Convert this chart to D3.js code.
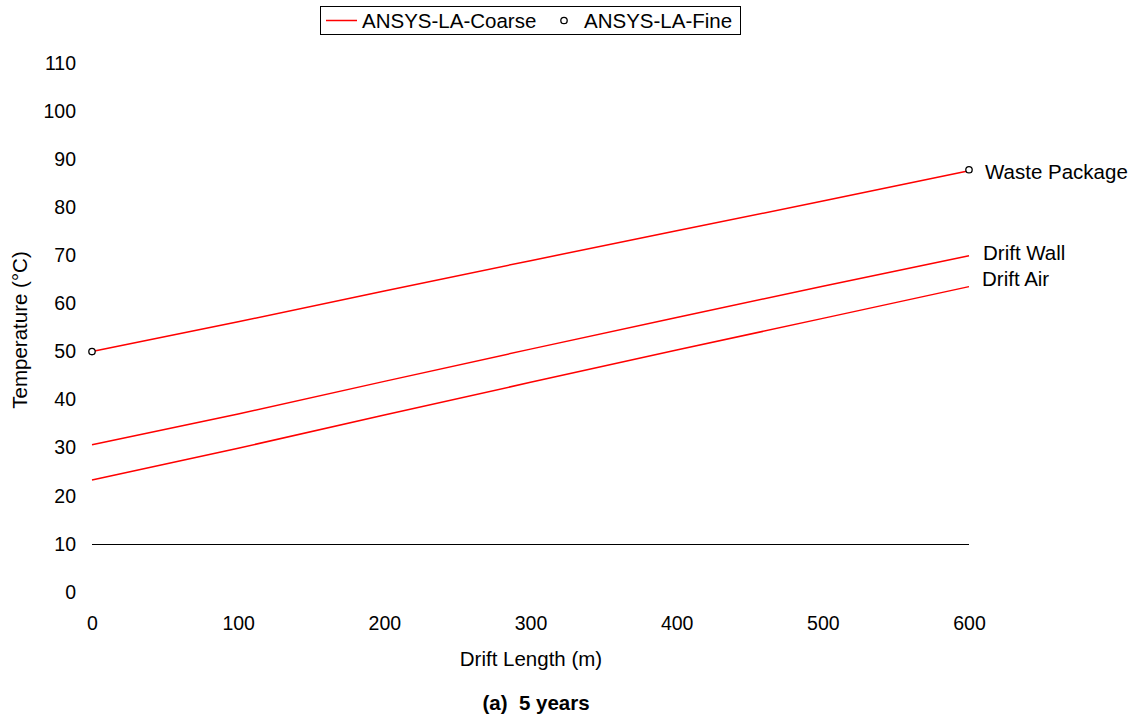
<!DOCTYPE html>
<html>
<head>
<meta charset="utf-8">
<script src="https://cdn.jsdelivr.net/npm/d3@7"></script>
<style>
  body { margin: 0; background: #fff; }
  svg { display: block; font-family: Arial, "Liberation Sans", sans-serif; }
</style>
</head>
<body>
<svg id="chart" width="1138" height="719"></svg>
<script>
// drift length (m) and temperatures (°C)
const distance = [0, 100, 200, 300, 400, 500, 600];
const wastePackage = [50.0, 56.2, 62.6, 68.9, 75.1, 81.3, 87.6];
const driftWall = [30.6, 37.0, 43.8, 50.5, 57.1, 63.6, 69.9];
const driftAir = [23.3, 29.9, 36.8, 43.6, 50.3, 56.9, 63.5];

const fineDistance = [0, 600];
const fineWastePackage = [50.0, 87.8];

const xTicks = [0, 100, 200, 300, 400, 500, 600];
const yTicks = [0, 10, 20, 30, 40, 50, 60, 70, 80, 90, 100, 110];
const seriesNames = ["Waste Package", "Drift Wall", "Drift Air"];

const svg = d3.select("#chart");

const x = d3.scaleLinear().domain([0, 600]).range([92, 969]);
const y = d3.scaleLinear().domain([0, 110]).range([592, 63]);

// y tick labels, no axis line
svg.append("g")
    .attr("transform", "translate(76,0)")
    .call(d3.axisLeft(y).tickValues(yTicks).tickSize(0).tickPadding(0))
    .call(g => g.select(".domain").remove())
    .selectAll("text")
    .attr("font-size", 19.5)
    .attr("font-family", "Arial, 'Liberation Sans', sans-serif")
    .attr("fill", "#000");

// x tick labels
svg.append("g")
    .attr("transform", "translate(0,616)")
    .call(d3.axisBottom(x).tickValues(xTicks).tickSize(0).tickPadding(0))
    .call(g => g.select(".domain").remove())
    .selectAll("text")
    .attr("font-size", 19.5)
    .attr("font-family", "Arial, 'Liberation Sans', sans-serif")
    .attr("fill", "#000");

// the black base line sits at 10 °C
svg.append("line")
    .attr("x1", x(0)).attr("x2", x(600))
    .attr("y1", Math.round(y(10)) + 0.5).attr("y2", Math.round(y(10)) + 0.5)
    .attr("stroke", "#000")
    .attr("stroke-width", 1);

const line = d3.line()
    .x((d, i) => x(distance[i]))
    .y(d => y(d));

[wastePackage, driftWall, driftAir].forEach(vals => {
    svg.append("path")
        .datum(vals)
        .attr("d", line)
        .attr("fill", "none")
        .attr("stroke", "#ff0000")
        .attr("stroke-width", 1.5);
});

svg.selectAll("circle.fine")
    .data(fineDistance)
    .enter().append("circle")
    .attr("class", "fine")
    .attr("cx", d => x(d))
    .attr("cy", (d, i) => y(fineWastePackage[i]))
    .attr("r", 3.2)
    .attr("fill", "#fff")
    .attr("stroke", "#000")
    .attr("stroke-width", 1.3);

// series labels at right end
const lastVals = [wastePackage, driftWall, driftAir].map(v => v[v.length - 1]);
const labelOffsets = [1, -3, -8];
const labelX = [985, 983, 982];
seriesNames.forEach((name, i) => {
    svg.append("text")
        .attr("x", labelX[i])
        .attr("y", y(lastVals[i]) + labelOffsets[i])
        .attr("dy", "0.35em")
        .attr("font-size", 20.5)
        .text(name);
});

// axis titles
svg.append("text")
    .attr("x", 531)
    .attr("y", 666)
    .attr("text-anchor", "middle")
    .attr("font-size", 20.5)
    .text("Drift Length (m)");

svg.append("text")
    .attr("transform", "translate(27,330) rotate(-90)")
    .attr("text-anchor", "middle")
    .attr("font-size", 20.5)
    .text("Temperature (°C)");

svg.append("text")
    .attr("x", 536)
    .attr("y", 710)
    .attr("text-anchor", "middle")
    .attr("font-size", 20.5)
    .attr("font-weight", "bold")
    .style("white-space", "pre")
    .text("(a)  5 years");

// legend
const legend = svg.append("g");
legend.append("rect")
    .attr("x", 320.5).attr("y", 6.5)
    .attr("width", 420).attr("height", 28)
    .attr("fill", "#fff")
    .attr("stroke", "#000")
    .attr("stroke-width", 1);
legend.append("line")
    .attr("x1", 326).attr("x2", 357)
    .attr("y1", 20.5).attr("y2", 20.5)
    .attr("stroke", "#ff0000")
    .attr("stroke-width", 1.5);
legend.append("text")
    .attr("x", 362).attr("y", 27.5)
    .attr("font-size", 20.5)
    .text("ANSYS-LA-Coarse");
legend.append("circle")
    .attr("cx", 564).attr("cy", 20.5)
    .attr("r", 3.2)
    .attr("fill", "#fff")
    .attr("stroke", "#000")
    .attr("stroke-width", 1.3);
legend.append("text")
    .attr("x", 584).attr("y", 27.5)
    .attr("font-size", 20.5)
    .text("ANSYS-LA-Fine");
</script>
</body>
</html>
